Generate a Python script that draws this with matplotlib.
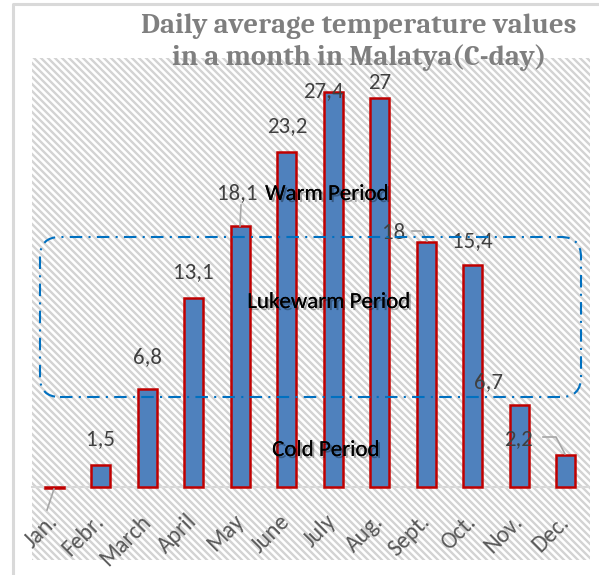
import matplotlib
matplotlib.use("Agg")
import matplotlib.pyplot as plt
import numpy as np
from matplotlib import font_manager
from matplotlib.collections import LineCollection
from matplotlib.patches import Rectangle, FancyBboxPatch
from matplotlib.transforms import IdentityTransform
import matplotlib.patheffects as pe

# ---------------- data ----------------
months = ["Jan.", "Febr.", "March", "April", "May", "June", "July",
          "Aug.", "Sept.", "Oct.", "Nov.", "Dec."]
values = [-0.1, 1.5, 6.8, 13.1, 18.1, 23.2, 27.4, 27.0, 17.0, 15.4, 5.7, 2.2]
value_labels = ["", "1,5", "6,8", "13,1", "18,1", "23,2", "27,4", "27",
                "18", "15,4", "6,7", "2,2"]
period_names = ["Warm Period", "Lukewarm Period", "Cold Period"]
title_text = "Daily average temperature values\nin a month in Malatya(C-day)"

# label offsets in pixels (dx, dy up) relative to bar top centre
label_offsets = [(0, 0), (0, 26), (0, 32), (0, 26), (-3, 33), (0, 26), (-10, 1),
                 (0, 15), (-33, 9), (0, 24), (-31, 23), (-47, 16)]


def pick(names):
    for n in names:
        try:
            font_manager.findfont(font_manager.FontProperties(family=n), fallback_to_default=False)
            return n
        except Exception:
            continue
    return "DejaVu Sans"


sans = pick(["Carlito", "Open Sans", "Lato"])
narrow = pick(["Liberation Sans Narrow", "Carlito", "Open Sans"])
serif = pick(["Caladea", "Liberation Serif", "DejaVu Serif"])

W, H = 599, 575
fig = plt.figure(figsize=(W / 100, H / 100), dpi=100)
fig.patch.set_facecolor("white")


def disp_y(y):
    return H - y


# outer frame
fig.add_artist(plt.Line2D([13, 13, W + 5], [-5, disp_y(4), disp_y(4)], color="#d9d9d9",
                          lw=2.2, transform=IdentityTransform(), zorder=0))

# hatched background ("\" lines)
hx0, hx1, hy0, hy1 = 32, 590, disp_y(560), disp_y(58)
segs = []
spacing = 7.0
c = hx0 + hy0
while c <= hx1 + hy1:
    segs.append([(hx0 - 5, c - hx0 + 5), (hx1 + 5, c - hx1 - 5)])
    c += spacing
lc = LineCollection(segs, colors="#d3d3d3", linewidths=1.7, transform=IdentityTransform(), zorder=0)
clip = Rectangle((hx0, hy0), hx1 - hx0, hy1 - hy0, transform=IdentityTransform())
lc.set_clip_path(clip)
fig.add_artist(lc)

# axes
ax = fig.add_axes([31 / W, (H - 501.4) / H, 558 / W, (501.4 - 54.4) / H])
ax.set_facecolor("none")
ax.patch.set_alpha(0)
xpos = np.arange(len(months))
bars = ax.bar(xpos, values, width=0.41, color="#4f81bd", edgecolor="#c00000",
              linewidth=1.8, zorder=3)
ax.axhline(0, color="#d9d9d9", lw=1.5, zorder=2)
ax.set_xlim(-0.5, len(months) - 0.5)
ax.set_ylim(-1, 30)
for s in ax.spines.values():
    s.set_visible(False)
ax.set_yticks([])
ax.set_xticks(xpos)
ax.set_xticklabels(months, rotation=45, ha="right", va="center", rotation_mode="anchor",
                   fontsize=17, color="#595959", family=[sans, "DejaVu Sans"])
ax.tick_params(axis="x", length=0, pad=12)

# value labels
for i, (v, lab) in enumerate(zip(values, value_labels)):
    if not lab:
        continue
    dx, dy = label_offsets[i]
    ax.annotate(lab, (xpos[i], max(v, 0)), xytext=(dx, dy), textcoords="offset pixels",
                ha="center", va="center", fontsize=16.5, color="#404040",
                family=[sans, "DejaVu Sans"], zorder=5)

# leader lines (image pixel coordinates)
leaders = [[(241, 205), (240, 226)],
           [(412, 231), (422, 231), (427, 241)],
           [(543, 437), (556, 437), (565, 454)],
           [(54, 489), (47, 510)]]
for ld in leaders:
    fig.add_artist(plt.Line2D([p[0] for p in ld], [disp_y(p[1]) for p in ld],
                              color="#a6a6a6", lw=1.2, transform=IdentityTransform(), zorder=6))

# rounded dash-dot box
box = FancyBboxPatch((40, disp_y(397)), 541, 160, boxstyle="round,pad=0,rounding_size=20",
                     transform=IdentityTransform(), fill=False, edgecolor="#0070c0",
                     lw=1.5, linestyle=(0, (6, 3, 1, 3)), zorder=7)
fig.add_artist(box)

# period texts
period_pos = [(327, 194), (329, 302), (326, 450)]
for name, (px, py) in zip(period_names, period_pos):
    fig.text(px / W, (H - py) / H, name, ha="center", va="center", fontsize=16.5,
             color="black", family=[narrow, "DejaVu Sans"], zorder=8,
             path_effects=[pe.withSimplePatchShadow(offset=(1.5, -1.5), shadow_rgbFace="black", alpha=0.3),
                           pe.Normal()])

# title
fig.text(359 / W, (H - 42) / H, title_text, ha="center", va="center", fontsize=20.5,
         fontweight="bold", color="#7f7f7f", family=[serif, "DejaVu Serif"],
         linespacing=1.25, zorder=8)

fig.savefig("out.png", dpi=100)
